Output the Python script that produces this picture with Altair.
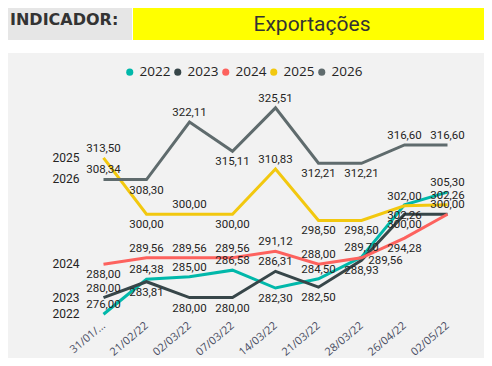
import altair as alt
import pandas as pd

dates = ["31/01/22", "21/02/22", "02/03/22", "07/03/22", "14/03/22",
         "21/03/22", "28/03/22", "26/04/22", "02/05/22"]
series_names = ["2022", "2023", "2024", "2025", "2026"]
v2022 = [276.00, 284.38, 285.00, 286.58, 282.30, 284.50, 289.70, 302.26, 305.30]
v2023 = [280.00, 283.81, 280.00, 280.00, 286.31, 282.50, 288.93, 300.00, 300.00]
v2024 = [288.00, 289.56, 289.56, 289.56, 291.12, 288.00, 289.56, 294.28, 300.00]
v2025 = [313.50, 300.00, 300.00, 300.00, 310.83, 298.50, 298.50, 302.00, 302.26]
v2026 = [308.34, 308.30, 322.11, 315.11, 325.51, 312.21, 312.21, 316.60, 316.60]
colors = ["#01B8AA", "#374649", "#FD625E", "#F2C80F", "#5F6B6D"]

# label placement style: a = above, b = below, r = right, n = hidden
placement = {
    "2022": "aaaabaaba",
    "2023": "abbbabbbn",
    "2024": "baaaaarba",
    "2025": "abababbaa",
    "2026": "abababbaa",
}

rows = []
for s, vals in zip(series_names, [v2022, v2023, v2024, v2025, v2026]):
    for i, (d, v) in enumerate(zip(dates, vals)):
        rows.append({"series": s, "date": d, "value": v,
                     "label": f"{v:.2f}".replace(".", ","),
                     "pos": placement[s][i], "first": i == 0})
df = pd.DataFrame(rows)

LABEL_FONT = "Roboto"
TXT = "#252423"

x_enc = alt.X("date:N", sort=dates,
              scale=alt.Scale(type="point", range=[74, 461]),
              axis=alt.Axis(title=None, labelAngle=-40, labelFont="Open Sans",
                            labelFontSize=11, labelColor="#4A4E63",
                            labelAlign="right", labelBaseline="middle",
                            domain=False, ticks=False, grid=False,
                            labelPadding=2, zindex=2,
                            labelExpr="datum.label == '31/01/22' ? '31/01/...' : datum.label"))
y_enc = alt.Y("value:Q", scale=alt.Scale(domain=[274.15, 349.45], nice=False, zero=False),
              axis=None)
color_scale = alt.Scale(domain=series_names, range=colors)

one = alt.Data(values=[{}])

panel = alt.Chart(one).mark_rect(color="#F2F2F2").encode(
    x=alt.value(0), x2=alt.value(476), y=alt.value(45), y2=alt.value(350))
hdr_gray = alt.Chart(one).mark_rect(color="#E6E6E6").encode(
    x=alt.value(0), x2=alt.value(124), y=alt.value(0), y2=alt.value(32))
hdr_yellow = alt.Chart(one).mark_rect(color="#FFFF00").encode(
    x=alt.value(125), x2=alt.value(476), y=alt.value(0), y2=alt.value(32))
hdr_text1 = alt.Chart(one).mark_text(
    font="DejaVu Sans", fontWeight="bold", fontSize=16, color="#333333",
    align="left", baseline="middle").encode(
    x=alt.value(2), y=alt.value(12), text=alt.value("INDICADOR:"))
hdr_text2 = alt.Chart(one).mark_text(
    font="Roboto", fontSize=21, color="#333333",
    align="center", baseline="middle").encode(
    x=alt.value(304), y=alt.value(17), text=alt.value("Exportações"))

base = alt.Chart(df)

color_enc = alt.Color("series:N", scale=color_scale, sort=series_names,
                      legend=alt.Legend(
                          title=None, orient="none", legendX=115, legendY=57,
                          direction="horizontal", symbolType="circle",
                          symbolSize=50, symbolOpacity=1, symbolStrokeWidth=0,
                          labelFont="Open Sans", labelFontSize=13.5,
                          labelColor=TXT, columnPadding=0, labelOffset=3))

legend_pts = base.mark_circle(opacity=0, size=1).encode(
    x=x_enc, y=y_enc, color=color_enc)

lines = base.mark_line(strokeWidth=3).encode(
    x=x_enc, y=y_enc,
    color=alt.Color("series:N", scale=color_scale, sort=series_names, legend=None),
    detail="series:N")

def labels(pos, dx, dy):
    return base.transform_filter(alt.datum.pos == pos).mark_text(
        font=LABEL_FONT, fontSize=11.5, color=TXT, dx=dx, dy=dy,
        align="center", baseline="middle").encode(
        x=x_enc, y=y_enc, text="label:N")

lab_a = labels("a", 0, -9)
lab_b = labels("b", 0, 11)
lab_r = labels("r", 24, 3)

series_lab = base.transform_filter(alt.datum.first == True).mark_text(
    font=LABEL_FONT, fontSize=12, color=TXT, dx=-24, align="right",
    baseline="middle").encode(x=x_enc, y=y_enc, text="series:N")

chart = alt.layer(panel, hdr_gray, hdr_yellow, hdr_text1, hdr_text2,
                  legend_pts, lines, lab_a, lab_b, lab_r, series_lab).properties(
    width=476, height=314,
    padding={"left": 0, "top": 0, "right": 0, "bottom": 36},
    autosize=alt.AutoSizeParams(type="none"),
    background="white",
).configure_view(stroke=None)

chart.save("out.html", embed_options={"renderer": "svg", "actions": False})
